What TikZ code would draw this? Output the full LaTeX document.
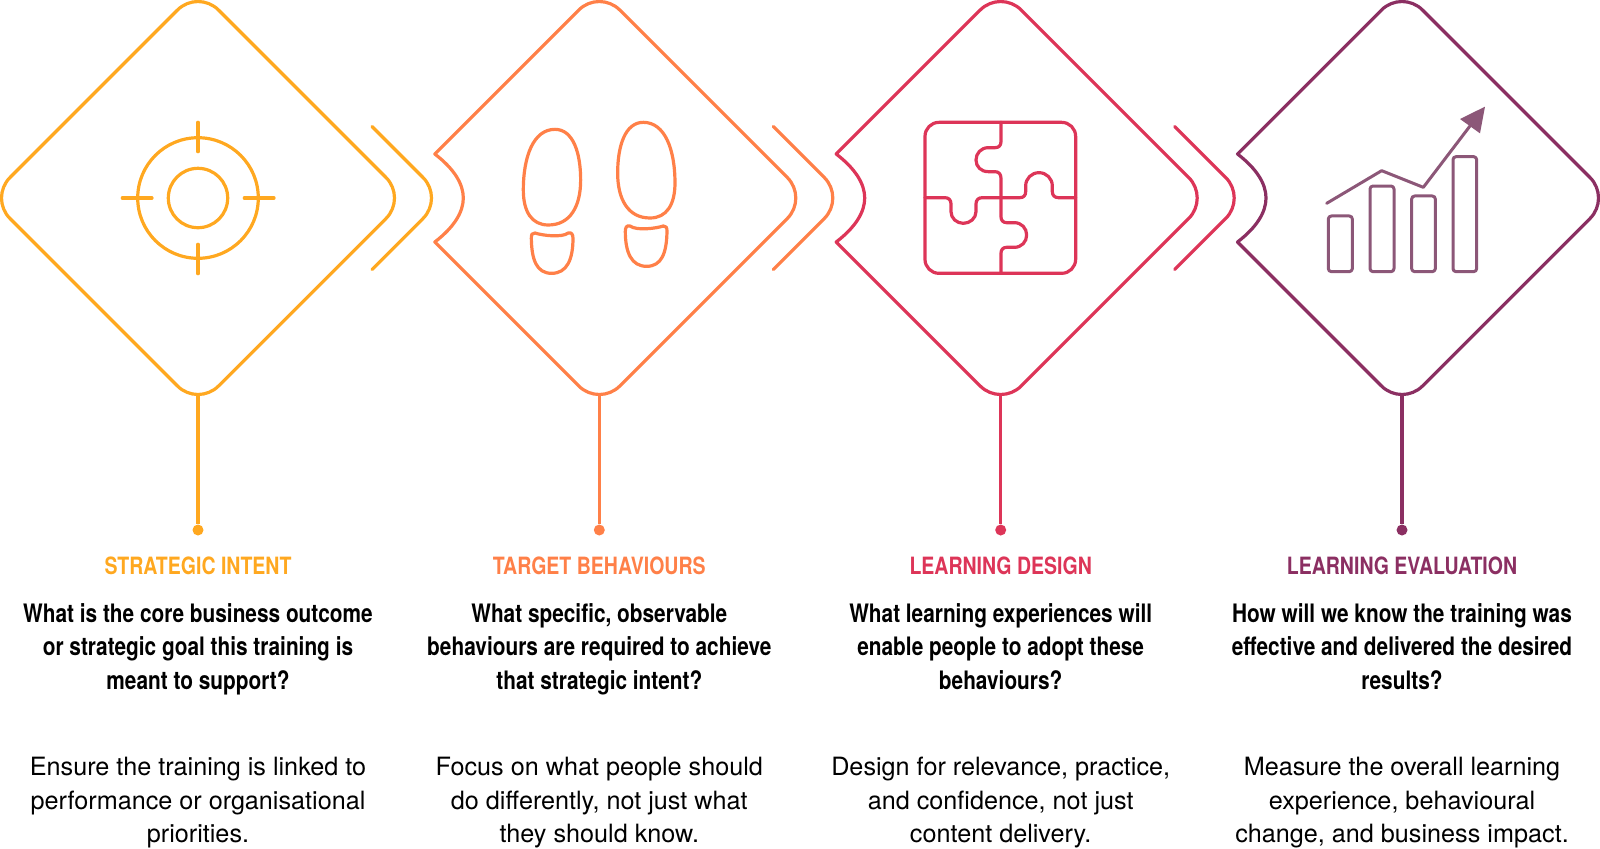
\documentclass[tikz,border=0pt]{standalone}
\usepackage{fontspec}
\setmainfont{TeX Gyre Heros}
\newfontfamily\headfont[FakeStretch=0.82]{TeX Gyre Heros}
\definecolor{colstrategic}{RGB}{255,168,32}
\definecolor{coltarget}{RGB}{255,128,72}
\definecolor{coldesign}{RGB}{221,53,88}
\definecolor{colevaluate}{RGB}{139,47,98}
\definecolor{colchart}{RGB}{140,87,120}
\tikzset{
	stageline/.style={line width=1.6pt, line join=round},
	iconline/.style={line width=1.6pt, line cap=round, line join=round},
	barline/.style={line width=1.5pt, line cap=round, line join=round},
	stagedot/.style={circle, fill, inner sep=0pt, minimum size=5.5pt},
	headlabel/.style={anchor=north, inner sep=0pt, align=center, font=\headfont\bfseries\fontsize{11.9}{16.7}\selectfont},
	asklabel/.style={anchor=north, inner sep=0pt, align=center, font=\headfont\bfseries\fontsize{12.7}{16.7}\selectfont},
	notelabel/.style={anchor=north, inner sep=0pt, align=center, font=\fontsize{12.6}{16.7}\selectfont}
}
\newcommand{\footprint}{
	\draw[iconline] (405,118) .. controls (460,118) and (482,190) .. (482,270) .. controls (482,350) and (450,405) .. (385,405) .. controls (335,405) and (310,365) .. (310,300) .. controls (310,200) and (340,118) .. (405,118) -- cycle;
	\draw[iconline] (345,429) .. controls (365,436) and (425,444) .. (445,429) .. controls (455,426) and (459,434) .. (459,445) .. controls (459,510) and (440,550) .. (395,550) .. controls (350,550) and (335,510) .. (334,445) .. controls (334,434) and (336,428) .. (345,429) -- cycle;
}
% #1 name, #2 centre, #3 colour, #4 heading, #5 question, #6 note
\newcommand{\stagetexts}[6]{
	\coordinate (base#1) at (#2,395);
	\node[stagedot, fill=#3] (dot#1) at (#2,530) {};
	\draw[stageline, #3] (base#1) -- (dot#1);
	\node[headlabel, text=#3] (head#1) at (#2,556) {#4};
	\node[asklabel] (ask#1) at (#2,603) {#5};
	\node[notelabel] (note#1) at (#2,757) {#6};
}

\begin{document}
\begin{tikzpicture}[x=0.5pt, y=-0.5pt]
	\useasboundingbox (0,0) rectangle (1600,848);
	% first diamond has no notch
	\draw[stageline, colstrategic, rounded corners=14.5pt] (198,-10.5) -- (406.5,198) -- (198,406.5) -- (-10.5,198) -- cycle;
	\foreach \cx/\col in {599.3/coltarget, 1000.7/coldesign, 1402/colevaluate} {
		\draw[stageline, \col] (\cx-164.5,154) [rounded corners=14.5pt] -- (\cx,-10.5) -- (\cx+208.5,198) -- (\cx,406.5) [sharp corners] -- (\cx-164.5,242) .. controls (\cx-145,227) and (\cx-136,212) .. (\cx-136,198) .. controls (\cx-136,184) and (\cx-145,169) .. (\cx-164.5,154) -- cycle;
	}
	% chevrons between the diamonds
	\foreach \cx/\col in {198/colstrategic, 599.3/coltarget, 1000.7/coldesign} {
		\draw[stageline, \col, line cap=round, rounded corners=14.5pt] (\cx+174,126.5) -- (\cx+245.5,198) -- (\cx+174,269.5);
	}
	% stems and texts
	\stagetexts{1}{198}{colstrategic}{STRATEGIC INTENT}{What is the core business outcome\\or strategic goal this training is\\meant to support?}{Ensure the training is linked to\\performance or organisational\\priorities.}
	\stagetexts{2}{599.3}{coltarget}{TARGET BEHAVIOURS}{What specific, observable\\behaviours are required to achieve\\that strategic intent?}{Focus on what people should\\do differently, not just what\\they should know.}
	\stagetexts{3}{1000.7}{coldesign}{LEARNING DESIGN}{What learning experiences will\\enable people to adopt these\\behaviours?}{Design for relevance, practice,\\and confidence, not just\\content delivery.}
	\stagetexts{4}{1402}{colevaluate}{LEARNING EVALUATION}{How will we know the training was\\effective and delivered the desired\\results?}{Measure the overall learning\\experience, behavioural\\change, and business impact.}
	% target icon
	\draw[iconline, colstrategic] (198,198) circle (60.3);
	\draw[iconline, colstrategic] (198,198) circle (29.7);
	\draw[iconline, colstrategic] (198,122.3) -- (198,151.7);
	\draw[iconline, colstrategic] (198,244.3) -- (198,273.7);
	\draw[iconline, colstrategic] (122.3,198) -- (152,198);
	\draw[iconline, colstrategic] (244.3,198) -- (274,198);
	% footprints
	\begin{scope}[shift={(420,90)}, scale=0.3333, coltarget]
		\footprint
	\end{scope}
	\begin{scope}[shift={(778.3,83)}, xscale=-0.3333, yscale=0.3333, coltarget]
		\footprint
	\end{scope}
	% puzzle
	\begin{scope}[shift={(880,100)}, scale=0.3333, coldesign]
		\draw[iconline, rounded corners=7pt] (135,67) rectangle (587,520);
		\draw[iconline] (363,67) -- (363,125) .. controls (363,137) and (356,143) .. (345,143) -- (325,143) .. controls (303,143) and (288,160) .. (288,180) .. controls (288,200) and (303,215) .. (325,215) -- (345,215) .. controls (356,215) and (363,222) .. (363,235) -- (363,293);
		\draw[iconline] (135,293) -- (195,293) .. controls (206,293) and (213,300) .. (213,312) -- (213,335) .. controls (213,355) and (230,370) .. (250,370) .. controls (270,370) and (288,355) .. (288,335) -- (288,312) .. controls (288,300) and (295,293) .. (307,293) -- (420,293) .. controls (431,293) and (437,286) .. (437,275) -- (437,258) .. controls (437,235) and (455,218) .. (477,218) .. controls (499,218) and (517,235) .. (517,258) -- (517,275) .. controls (517,286) and (524,293) .. (535,293) -- (587,293);
		\draw[iconline] (363,293) -- (363,350) .. controls (363,361) and (369,368) .. (380,368) -- (403,368) .. controls (425,368) and (440,385) .. (440,405) .. controls (440,425) and (425,442) .. (403,442) -- (380,442) .. controls (369,442) and (363,449) .. (363,460) -- (363,520);
	\end{scope}
	% chart
	\begin{scope}[shift={(1280,90)}, scale=0.3333, colchart]
		\foreach \xa/\xb/\ytop in {145/217/378, 270/342/288, 395/466/318, 519/590/200} {
			\draw[barline, rounded corners=1.5pt] (\xa,\ytop) rectangle (\xb,545);
		}
		\draw[barline] (140,340) -- (305,242) -- (430,292) -- (570,108);
		\fill (615,50) -- (540,87) -- (600,130) -- cycle;
	\end{scope}
\end{tikzpicture}
\end{document}
